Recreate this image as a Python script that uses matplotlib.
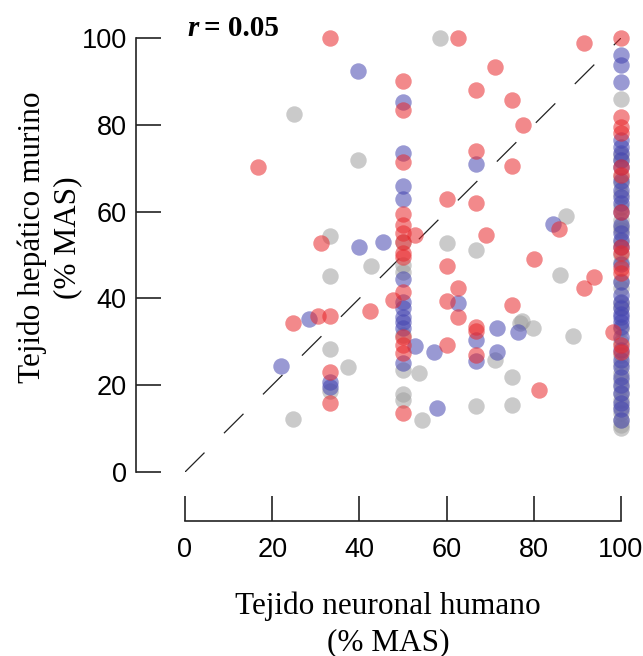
import matplotlib
matplotlib.use("Agg")
import matplotlib.pyplot as plt

# datos (% MAS)
rojo_x = [16.7, 33.3, 62.5, 71, 66.7, 75, 77.5, 91.5, 66.7, 75, 60, 66.7, 69, 80,
          85.7, 93.8, 91.5, 81.2, 75, 66.7, 66.7, 66.7, 60, 62.5, 60, 62.5, 60,
          47.7, 52.8, 31.2, 42.4, 24.8, 30.5, 33.3, 33.3, 33.3,
          50, 50, 50, 50, 50, 50, 50, 50, 50, 50, 50, 50, 50, 50,
          100, 100, 100, 100, 100, 100, 100, 100, 100, 100, 100, 100, 100, 98.2]
rojo_y = [70.3, 100, 100, 93.3, 88, 85.7, 80, 98.8, 74, 70.5, 63, 62, 54.5, 49,
          56, 45, 42.5, 19, 38.5, 33.5, 32.5, 27, 47.5, 42.5, 39.3, 35.8, 29.2,
          39.6, 54.6, 52.8, 37.1, 34.3, 36, 36, 23, 15.9,
          90, 83.4, 71.4, 59.4, 56.9, 55, 50.5, 49.5, 41.5, 31.1, 29.3, 27.4, 13.6, 53,
          100, 81.8, 79.5, 78.1, 70.3, 68.4, 59.9, 51.8, 50.5, 47, 45.9, 29.3, 27.6, 32.3]

azul_x = [39.7, 66.7, 84.4, 71.6, 76.4, 71.6, 66.7, 66.7, 62.5, 52.8, 57.1, 57.8,
          39.9, 45.4, 28.4, 22, 33.3, 33.3,
          50, 50, 50, 50, 50, 50, 50, 50, 50, 50, 50,
          100, 100, 100, 100, 100, 100, 100, 100, 100, 100, 100, 100, 100, 100,
          100, 100, 100, 100, 100, 100, 100, 100, 100, 100, 100, 100,
          100, 100, 100, 100, 100, 100, 100, 100, 100, 100]
azul_y = [92.4, 71, 57.2, 33.2, 32.3, 27.6, 30.4, 25.6, 38.9, 29, 27.6, 14.7,
          51.8, 53, 35.3, 24.4, 20.7, 19.7,
          85.3, 73.5, 65.9, 62.9, 44.5, 39.2, 37.8, 35.7, 34.6, 33.2, 25.1,
          96, 93.8, 89.9, 76.5, 74.9, 73.5, 70.3, 65, 63.4, 62, 59.9, 55, 53.5,
          51.8, 43.8, 40.8, 39.2, 37.8, 35.7, 34.6, 33.4, 31.1, 25.8, 24.2, 18.2, 36.5,
          12, 14.5, 16, 20, 22, 28, 48, 57, 67, 72]

gris_x = [25, 39.7, 58.5, 60, 66.7, 86, 87.4, 89, 75, 75, 66.7, 76.8, 77.3, 79.8,
          71.1, 53.7, 54.4, 33.3, 42.7, 33.3, 33.3, 37.4, 33.3, 24.8,
          50, 50, 50, 50, 50, 50, 50,
          100, 100, 100, 100, 100, 100, 100, 100, 100, 100, 100, 100, 100, 100,
          100, 100, 100, 100, 100, 100, 100, 100, 100, 100,
          100, 100, 100, 100, 100, 100, 100]
gris_y = [82.5, 72, 100, 52.8, 51.2, 45.5, 59, 31.3, 15.4, 21.9, 15.2, 34.3, 34.8, 33.2,
          25.8, 22.8, 12, 54.4, 47.5, 45.2, 28.3, 24.2, 18.7, 12.2,
          53, 47.7, 46, 31.5, 23.5, 18, 16.6,
          85.9, 73, 71.9, 68, 66.6, 58.1, 56.5, 55.8, 48.4, 42.4, 39, 33, 22.8,
          21.2, 19.6, 18, 16.6, 15, 13.6, 12, 10.8, 10.1, 64, 61,
          25, 27, 30, 38, 44, 50, 53]

ticks = [0, 20, 40, 60, 80, 100]
r_valor = "0.05"

fig = plt.figure(figsize=(6.43, 6.56), dpi=100)
ax = fig.add_axes([185 / 643, 1 - 472 / 656, 436 / 643, 434 / 656])

ax.plot([0, 100], [0, 100], color="#222222", lw=0.9, dashes=(22, 22), zorder=1)

kw = dict(s=140, alpha=0.55, linewidths=0, clip_on=False, zorder=2)
ax.scatter(gris_x, gris_y, color="#a0a0a0", **kw)
ax.scatter(azul_x, azul_y, color="#4545b0", **kw)
ax.scatter(rojo_x, rojo_y, color="#e8282c", **kw)

ax.set_xlim(0, 100)
ax.set_ylim(0, 100)
ax.set_xticks(ticks)
ax.set_yticks(ticks)

for s in ["top", "right"]:
    ax.spines[s].set_visible(False)
ax.spines["left"].set_position(("outward", 35))
ax.spines["bottom"].set_position(("outward", 35))
for s in ["left", "bottom"]:
    ax.spines[s].set_linewidth(1.2)
    ax.spines[s].set_color("#222222")

ax.tick_params(direction="in", length=18, width=1.2, color="#222222",
               labelsize=19.5, pad=7)
ax.tick_params(axis="x", pad=12)
for lab in ax.get_xticklabels() + ax.get_yticklabels():
    lab.set_fontfamily("Liberation Sans")

serif = "Liberation Serif"
ax.set_xlabel("Tejido neuronal humano\n(% MAS)", fontsize=22.5, family=serif,
              linespacing=1.3)
ax.set_ylabel("Tejido hepático murino\n(% MAS)", fontsize=22.5, family=serif,
              linespacing=1.3)
ax.xaxis.set_label_coords(0.466, -0.276)
ax.yaxis.set_label_coords(-0.236, 0.54)

ax.text(0.5, 100.5, "r", fontsize=21, family=serif, weight="bold",
        style="italic", va="baseline")
ax.text(4.3, 100.5, "= " + r_valor, fontsize=21, family=serif,
        weight="bold", va="baseline")

fig.savefig("out.png", dpi=100)
